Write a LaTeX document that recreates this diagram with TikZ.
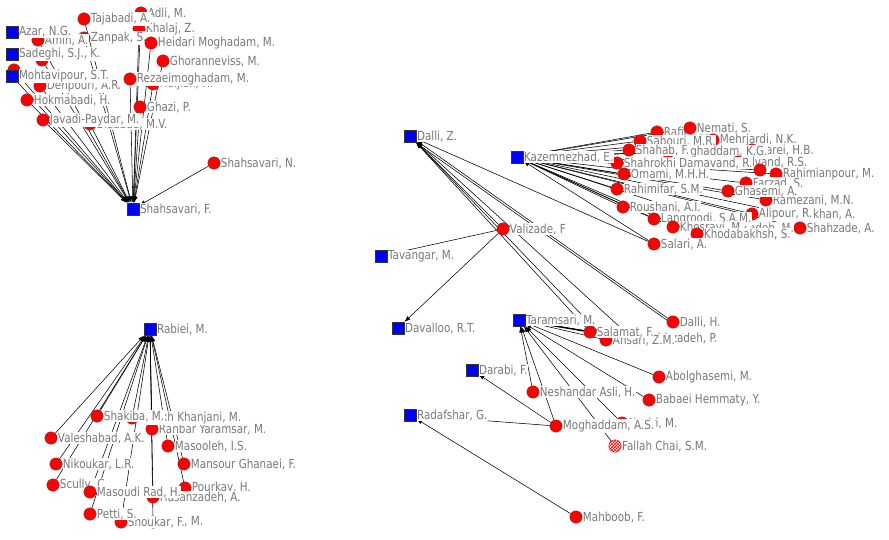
\documentclass[tikz,border=0pt]{standalone}
\usepackage{fontspec}
\setmainfont{DejaVu Sans}
\usepackage{tikz}
\usetikzlibrary{arrows.meta}
\usetikzlibrary{patterns}
\definecolor{labgray}{RGB}{120,120,120}
\pgfdeclarelayer{paper}
\pgfdeclarelayer{edges}
\pgfsetlayers{paper,edges,main}
\tikzset{
    >={Latex[length=6pt,width=4.5pt]},
    lab/.style={fill=white, text=labgray, inner sep=0.5pt, xscale=0.83, font=\fontsize{12.5}{13}\selectfont},
    au/.style={shape=circle, fill=red, draw=black!70, line width=0.3pt, minimum size=12.5pt, inner sep=0pt, label={[lab]right:#1}},
    hub/.style={shape=rectangle, fill=blue, draw=black!80, line width=0.4pt, minimum size=12.5pt, inner sep=0pt, label={[lab]right:#1}},
    hatch/.style={shape=circle, draw=red, preaction={fill=white}, pattern=crosshatch, pattern color=red, minimum size=12.5pt, inner sep=0pt, label={[lab]right:#1}},
    tie/.style={->, line width=0.55pt}}

\begin{document}
\begin{tikzpicture}[x=1pt, y=-1pt]
        \begin{pgfonlayer}{paper}
        \fill[white] (0,0) rectangle (889,540);
        \end{pgfonlayer}
        \useasboundingbox (0,0) rectangle (889,540);

            % top left
            \node[au={Adli, M.}] (adli) at (141,13) {};
            \node[au={Khalaj, Z.}] (khalaj) at (139,29) {};
            \node[au={Zanpak, S.}] (zanpak) at (84,38) {};
            \node[au={Amin, A.}] (amin) at (38,40) {};
            \node[au={Tajabadi, A.}] (tajabadi) at (84,19) {};
            \node[hub={Azar, N.G.}] (azar) at (12,32) {};
            \node[au={}] (sadr) at (42,60) {};
            \node[au={Heidari Moghadam, M.}] (heidari) at (151,43) {};
            \node[au={Ghoranneviss, M.}] (ghoran) at (163,61) {};
            \node[hub={Sadeghi, S.J., K.}] (sadeghi) at (12,54) {};
            \node[au={}] (mohtr) at (14,70) {};
            \node[au={Dehpouri, A.R.}] (dehpouri) at (40,86) {};
            \node[au={Haijian, H.}] (haijian) at (153,84) {};
            \node[au={Rezaeimoghadam, M.}] (rezaei) at (130,79) {};
            \node[hub={Mohtavipour, S.T.}] (mohtavipour) at (12,76) {};
            \node[au={Hokmabadi, H.}] (hokmabadi) at (27,100) {};
            \node[au={Ghazi, P.}] (ghazi) at (140,107) {};
            \node[au={Bidabad, M.V.}] (bidabad) at (90,124) {};
            \node[au={Javadi-Paydar, M.}] (javadi) at (43,120) {};
            \node[au={Shahsavari, N.}] (shn) at (214,163) {};
            \node[hub={Shahsavari, F.}] (shf) at (133,209) {};

            % bottom left
            \node[au={Ranbar Yaramsar, M.}] (ranbar) at (152,429) {};
            \node[au={Sheikh Khanjani, M.}] (khanjani) at (132,418) {};
            \node[au={Shakiba, M.}] (shakiba) at (97,416) {};
            \node[au={Valeshabad, A.K.}] (valeshabad) at (51,438) {};
            \node[au={Masooleh, I.S.}] (masooleh) at (168,446) {};
            \node[au={Nikoukar, L.R.}] (nikoukar) at (56,464) {};
            \node[au={Mansour Ghanaei, F.}] (mansour) at (184,464) {};
            \node[au={Scully, C.}] (scully) at (53,485) {};
            \node[au={Pourkay, H.}] (pourkay) at (185,488) {};
            \node[au={Hasanzadeh, A.}] (hasanzadeh) at (153,497) {};
            \node[au={Masoudi Rad, H.}] (masoudi) at (90,492) {};
            \node[au={Luca, M.}] (luca) at (153,522) {};
            \node[au={Shoukar, F.}] (shoukar) at (121,522) {};
            \node[au={Petti, S.}] (petti) at (90,514) {};
            \node[hub={Rabiei, M.}] (rabiei) at (150,329) {};

            % right, top group
            \node[au={Rafiei, M.}] (rafiei) at (657,132) {};
            \node[au={Nemati, S.}] (nemati) at (690,128) {};
            \node[au={Mehrjardi, N.K.}] (mehrjardi) at (713,140) {};
            \node[au={Sabouri, M.R.}] (sabouri) at (640,141) {};
            \node[au={Zarei, H.B.}] (zarei) at (752,150) {};
            \node[au={Moghaddam, K.G.}] (mogkg) at (668,152) {};
            \node[au={Shahab, F.}] (shahab) at (629,150) {};
            \node[au={Alvand, R.S.}] (alvand) at (738,162) {};
            \node[au={Shahrokhi Damavand, R.}] (shahrokhi) at (617,163) {};
            \node[au={}] (eh) at (760,170) {};
            \node[au={Rahimianpour, M.}] (rahimian) at (776,174) {};
            \node[au={Omami, M.H.H.}] (omami) at (624,174) {};
            \node[au={Farzad, S.}] (farzad) at (746,183) {};
            \node[au={Ramezani, M.N.}] (ramezani) at (766,200) {};
            \node[au={Ghasemi, A.}] (ghasemi) at (728,191) {};
            \node[au={Rahimifar, S.M.}] (rahimifar) at (617,189) {};
            \node[au={Mirkhan, A.}] (mirkhan) at (790,214) {};
            \node[au={Alipour, R.}] (alipour) at (752,214) {};
            \node[au={Roushani, A.I.}] (roushani) at (623,207) {};
            \node[au={Shahzade, A.}] (shahzade) at (800,228) {};
            \node[au={Zadeh, M.}] (zadeh) at (735,228) {};
            \node[au={Langroodi, S.A.M.}] (langroodi) at (654,219) {};
            \node[au={Khosravi, M.}] (khosravi) at (673,227) {};
            \node[au={Khodabakhsh, S.}] (khodabakhsh) at (697,234) {};
            \node[au={Salari, A.}] (salari) at (654,244) {};
            \node[hub={Kazemnezhad, E.}] (kazem) at (517,157) {};

            % right, middle and bottom
            \node[hub={Dalli, Z.}] (dalliz) at (410,136) {};
            \node[au={Valizade, F}] (valizade) at (503,229) {};
            \node[hub={Tavangar, M.}] (tavangar) at (381,256) {};
            \node[hub={Davalloo, R.T.}] (davalloo) at (398,328) {};
            \node[au={Bashirzadeh, P.}] (bashir) at (632,338) {};
            \node[au={Ansari, Z.M.}] (ansari) at (606,340) {};
            \node[au={Dalli, H.}] (dallih) at (673,322) {};
            \node[au={Salamat, F.}] (salamat) at (590,332) {};
            \node[hub={Taramsari, M.}] (taramsari) at (519,320) {};
            \node[hub={Darabi, F.}] (darabi) at (472,370) {};
            \node[hub={Radafshar, G.}] (radafshar) at (410,415) {};
            \node[au={Abolghasemi, M.}] (abol) at (659,377) {};
            \node[au={Neshandar Asli, H.}] (neshandar) at (533,392) {};
            \node[au={Babaei Hemmaty, Y.}] (babaei) at (649,400) {};
            \node[au={Nasiri, M.}] (nasiri) at (622,423) {};
            \node[au={Moghaddam, A.S.}] (moghaddam) at (556,426) {};
            \node[hatch={Fallah Chai, S.M.}] (fallah) at (615,446) {};
            \node[au={Mahboob, F.}] (mahboob) at (576,517) {};

            \begin{pgfonlayer}{edges}
            \foreach \s in {adli, khalaj, zanpak, amin, tajabadi, sadr, heidari, ghoran, mohtr, mohtavipour, dehpouri, haijian, rezaei, hokmabadi, ghazi, bidabad, javadi, shn}
                \draw[tie] (\s) -- (shf);
            \foreach \s in {ranbar, khanjani, shakiba, valeshabad, masooleh, nikoukar, mansour, scully, pourkay, hasanzadeh, masoudi, luca, shoukar, petti}
                \draw[tie] (\s) -- (rabiei);
            \foreach \s in {rafiei, nemati, mehrjardi, sabouri, zarei, mogkg, shahab, alvand, shahrokhi, eh, rahimian, omami, farzad, ramezani, ghasemi, rahimifar, mirkhan, alipour, roushani, shahzade, zadeh, langroodi, khosravi, khodabakhsh, salari}
                \draw[tie] (\s) -- (kazem);
            \foreach \s in {valizade, salamat, ansari, bashir, dallih, salari}
                \draw[tie] (\s) -- (dalliz);
            \draw[tie, transform canvas={yshift=-2.5pt}] (dallih) -- (dalliz);
            \draw[tie] (valizade) -- (tavangar);
            \draw[tie] (valizade) -- (davalloo);
            \draw[tie, line width=1.3pt] (salamat) -- (taramsari);
            \foreach \s in {ansari, bashir, abol, neshandar, babaei, nasiri, moghaddam, fallah}
                \draw[tie] (\s) -- (taramsari);
            \draw[tie] (moghaddam) -- (darabi);
            \draw[tie] (moghaddam) -- (radafshar);
            \draw[tie] (mahboob) -- (radafshar);
            \end{pgfonlayer}

        \end{tikzpicture}
\end{document}
